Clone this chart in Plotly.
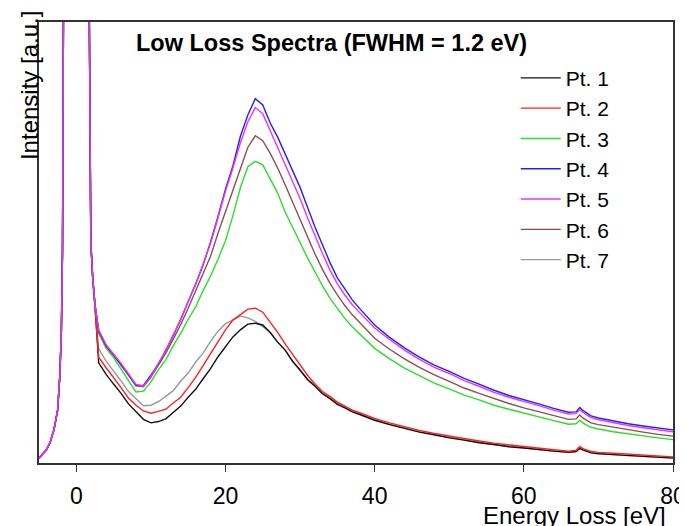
import plotly.graph_objects as go

# ---- data ----
# zero-loss peak region, shared by all spectra (goes far off scale)
zlp_energy = [-5, -4.5, -4, -3.5, -3, -2.5, -2.2, -2.0, -1.85, -1.7, -1.0, 0, 1.0, 1.75, 1.95, 2.2, 2.5]
zlp_intensity = [1.1, 2.0, 3.0, 4.7, 7.5, 12.0, 20, 30, 48, 110, 300, 600, 300, 100, 50, 42, 36]

energy = [3, 4, 5, 6, 7, 8, 9, 10, 11, 12, 13, 14, 15, 16, 17, 18, 19, 20,
          21, 22, 23, 24, 25, 26, 27, 28, 29, 30, 31, 32, 33, 34, 35, 36, 37, 38,
          40, 42, 44, 46, 48, 50, 52, 54, 56, 58, 60, 62, 64, 66,
          67, 67.5, 68, 69,
          70, 72, 74, 76, 78, 80]

pt1 = [22.7, 20.1, 17.9, 15.8, 13.4, 11.6, 9.9, 9.1, 9.4, 10.0, 11.4, 12.9, 14.9, 16.7, 19.1, 21.4, 24.1, 26.4,
       28.6, 30.2, 31.5, 31.7, 31.3, 29.6, 27.4, 25.6, 23.1, 21.1, 18.9, 17.4, 15.7, 14.6, 13.3, 12.5, 11.6, 11.0,
       9.7, 8.7, 7.9, 7.0, 6.4, 5.7, 5.2, 4.6, 4.2, 3.7, 3.4, 3.0, 2.7, 2.4,
       2.6, 3.3, 2.9, 2.3,
       2.1, 1.9, 1.7, 1.5, 1.3, 1.1]

pt2 = [24.0, 21.6, 19.4, 17.1, 14.7, 13.1, 11.8, 11.3, 11.7, 12.2, 13.6, 14.9, 17.1, 19.4, 22.1, 24.7, 27.6, 30.2,
       32.4, 33.7, 34.9, 35.1, 34.2, 31.9, 29.6, 27.0, 24.6, 22.1, 19.9, 17.9, 16.2, 15.1, 13.8, 12.9, 12.0, 11.4,
       10.1, 9.1, 8.2, 7.4, 6.7, 6.1, 5.5, 5.0, 4.5, 4.1, 3.7, 3.3, 3.0, 2.7,
       2.9, 3.7, 3.2, 2.6,
       2.4, 2.2, 2.0, 1.8, 1.6, 1.4]

pt3 = [29.4, 26.0, 23.9, 21.4, 18.6, 16.1, 16.3, 18.4, 21.1, 23.4, 26.6, 29.4, 32.6, 35.4, 39.1, 42.4, 46.2, 50.4,
       56.1, 62.4, 67.2, 68.4, 67.6, 64.4, 61.2, 56.9, 53.6, 50.0, 46.5, 43.2, 40.2, 37.4, 35.0, 32.8, 30.9, 29.3,
       26.0, 23.6, 21.5, 19.8, 18.1, 16.8, 15.4, 14.3, 13.1, 12.2, 11.3, 10.4, 9.6, 8.8,
       8.9, 9.7, 9.0, 8.1,
       7.7, 7.1, 6.6, 6.1, 5.7, 5.3]

pt4 = [30.0, 26.6, 24.6, 22.4, 20.1, 17.6, 17.6, 19.9, 22.4, 25.6, 28.9, 32.6, 36.4, 40.6, 44.9, 50.1, 55.9, 62.1,
       67.4, 74.1, 78.9, 82.6, 81.2, 77.1, 73.9, 70.0, 66.5, 62.5, 58.0, 53.5, 49.5, 45.5, 42.0, 39.5, 37.0, 35.0,
       31.3, 28.5, 26.1, 24.0, 22.2, 20.8, 19.2, 17.9, 16.5, 15.3, 14.4, 13.4, 12.4, 11.5,
       11.6, 12.6, 11.8, 10.7,
       10.2, 9.5, 8.9, 8.4, 7.9, 7.5]

pt5 = [30.2, 26.8, 24.7, 22.6, 20.2, 17.8, 17.4, 19.6, 22.6, 25.4, 29.1, 32.4, 36.6, 40.4, 45.1, 49.8, 55.6, 61.6,
       66.9, 72.6, 77.4, 80.6, 79.2, 75.4, 71.8, 67.6, 63.9, 60.0, 55.6, 51.4, 47.5, 43.8, 40.6, 38.1, 35.9, 34.1,
       30.6, 28.0, 25.6, 23.5, 21.7, 20.3, 18.7, 17.4, 16.0, 14.9, 14.0, 13.0, 12.0, 11.1,
       11.2, 12.1, 11.4, 10.3,
       9.8, 9.1, 8.5, 8.0, 7.5, 7.1]

pt6 = [29.8, 26.4, 24.4, 22.2, 19.9, 17.5, 17.3, 19.4, 22.1, 24.9, 28.1, 31.4, 35.1, 38.9, 43.1, 46.9, 52.1, 56.9,
       62.1, 66.9, 71.6, 74.2, 73.1, 70.2, 66.9, 63.1, 59.2, 55.3, 51.2, 47.4, 43.9, 40.8, 38.1, 35.7, 33.6, 31.8,
       28.3, 25.8, 23.6, 21.7, 20.0, 18.5, 17.0, 15.8, 14.6, 13.5, 12.5, 11.6, 10.7, 9.9,
       10.0, 10.9, 10.1, 9.1,
       8.7, 8.1, 7.5, 7.0, 6.5, 6.1]

pt7 = [25.9, 23.1, 20.9, 18.6, 16.2, 14.6, 13.0, 13.1, 13.9, 15.1, 16.4, 18.6, 20.4, 22.9, 24.9, 27.6, 29.9, 31.6,
       32.4, 33.3, 32.9, 32.1, 30.9, 29.6, 27.4, 25.6, 22.9, 21.1, 19.1, 17.6, 15.9, 14.8, 13.6, 12.8, 11.9, 11.2,
       9.8, 8.8, 7.9, 7.1, 6.4, 5.8, 5.2, 4.7, 4.2, 3.8, 3.4, 3.0, 2.7, 2.5,
       2.6, 3.3, 2.9, 2.4,
       2.2, 1.9, 1.7, 1.5, 1.3, 1.2]

series_names = ["Pt. 1", "Pt. 2", "Pt. 3", "Pt. 4", "Pt. 5", "Pt. 6", "Pt. 7"]
series_values = [pt1, pt2, pt3, pt4, pt5, pt6, pt7]
series_colors = ["#111111", "#ff2020", "#2ade2a", "#2020ff", "#ee33ee", "#8c5050", "#999999"]
draw_order = [6, 0, 1, 2, 5, 3, 4]   # magenta/blue end up on top, as in the reference

x_ticks = [0, 20, 40, 60, 80]

FONT = "Liberation Sans, Arial, sans-serif"

fig = go.Figure()
for i in draw_order:
    fig.add_trace(go.Scatter(
        x=zlp_energy + energy,
        y=zlp_intensity + series_values[i],
        mode="lines",
        name=series_names[i],
        legendrank=i + 1,
        line=dict(color=series_colors[i], width=1.4),
    ))

# the page body keeps its default 8px margin, so the figure is sized to fit the window
fig.update_layout(
    width=679, height=518,
    margin=dict(l=31, r=14, t=14, b=63, autoexpand=False),
    paper_bgcolor="white", plot_bgcolor="white",
    font=dict(family=FONT, color="black"),
    showlegend=True,
    legend=dict(
        x=0.752, y=0.919, xanchor="left", yanchor="top",
        bgcolor="rgba(0,0,0,0)", borderwidth=0,
        font=dict(family=FONT, size=21, color="black"),
        itemwidth=40, traceorder="normal",
    ),
    xaxis=dict(
        range=[-5, 80], tickvals=x_ticks, ticktext=[str(v) for v in x_ticks],
        ticks="outside", ticklen=7, tickwidth=1.3, tickcolor="#333",
        showline=True, linecolor="#333", linewidth=1.5, mirror=True,
        showgrid=False, zeroline=False, automargin=False,
        tickfont=dict(family=FONT, size=23, color="black"),
        ticklabelstandoff=5,
    ),
    yaxis=dict(
        range=[0, 100], showticklabels=False, ticks="",
        showline=True, linecolor="#333", linewidth=1.5, mirror=True,
        showgrid=False, zeroline=False, automargin=False,
    ),
    annotations=[
        dict(text="<b>Low Loss Spectra (FWHM = 1.2 eV)</b>", xref="paper", yref="paper",
             x=0.150, y=0.952, xanchor="left", yanchor="middle", showarrow=False,
             font=dict(family=FONT, size=23.5, color="black")),
        dict(text="Intensity [a.u.]", xref="paper", yref="paper", textangle=-90,
             x=-0.0158, y=0.857, xanchor="center", yanchor="middle", showarrow=False,
             font=dict(family=FONT, size=24, color="black")),
        dict(text="Energy Loss [eV]", xref="paper", yref="paper",
             x=0.992, y=-0.118, xanchor="right", yanchor="middle", showarrow=False,
             font=dict(family=FONT, size=24, color="black")),
    ],
)

fig.write_html("out.html")
